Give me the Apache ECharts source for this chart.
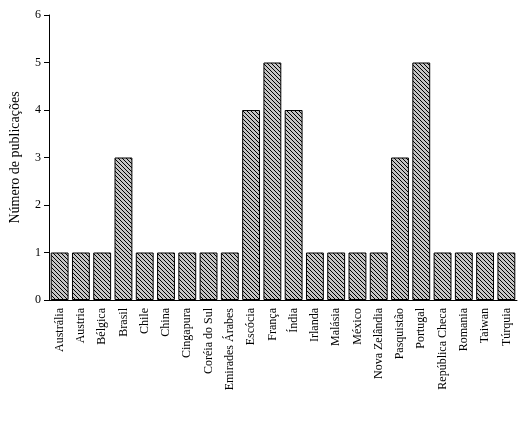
<!DOCTYPE html>
<html><head><meta charset="utf-8">
<script src="https://cdn.jsdelivr.net/npm/echarts@6/dist/echarts.min.js"></script>
<style>html,body{margin:0;padding:0;background:#fff}#c{width:526px;height:421px}</style>
</head><body><div id="c"></div>
<script>
var countries = ['Austrália','Austria','Bélgica','Brasil','Chile','China','Cingapura','Coréia do Sul','Emirades Árabes','Escócia','França','Índia','Irlanda','Malásia','México','Nova Zelândia','Pasquistão','Portugal','República Checa','Romania','Taiwan','Túrquia'];
var publications = [1,1,1,3,1,1,1,1,1,4,5,4,1,1,1,1,3,5,1,1,1,1];
var yTicks = [0,1,2,3,4,5,6];

// hatch pattern: grey with diagonal black lines
var pc = document.createElement('canvas');
pc.width = 4; pc.height = 4;
var ctx = pc.getContext('2d');
ctx.fillStyle = '#c4c4c4';
ctx.fillRect(0, 0, 4, 4);
ctx.strokeStyle = '#000';
ctx.lineWidth = 1;
ctx.beginPath();
ctx.moveTo(0, 0); ctx.lineTo(4, 4);
ctx.moveTo(-1, 3); ctx.lineTo(1, 5);
ctx.moveTo(3, -1); ctx.lineTo(5, 1);
ctx.stroke();

var chart = echarts.init(document.getElementById('c'));
var font = 'Liberation Serif';
chart.setOption({
  animation: false,
  textStyle: { fontFamily: font },
  grid: { left: 43, right: 9, top: 15, bottom: 121 },
  xAxis: {
    type: 'category',
    data: countries,
    axisLine: { lineStyle: { color: '#000' } },
    axisTick: { lineStyle: { color: '#000' }, length: 5 },
    axisLabel: { rotate: 90, color: '#000', fontSize: 12, fontFamily: font, interval: 0, margin: 8 }
  },
  yAxis: {
    type: 'value',
    min: yTicks[0], max: yTicks[yTicks.length - 1], interval: 1,
    name: 'Número de publicações',
    nameLocation: 'middle', nameGap: 27, nameRotate: 90,
    nameTextStyle: { color: '#000', fontSize: 14, fontFamily: font },
    axisLine: { show: true, lineStyle: { color: '#000' } },
    axisTick: { show: true, lineStyle: { color: '#000' }, length: 5 },
    axisLabel: { color: '#000', fontSize: 12, fontFamily: font, margin: 8 },
    splitLine: { show: false }
  },
  series: [{
    type: 'bar',
    data: publications,
    barCategoryGap: '16%',
    itemStyle: {
      color: { image: pc, repeat: 'repeat' },
      borderColor: '#000',
      borderWidth: 1
    }
  }]
});
</script></body></html>
